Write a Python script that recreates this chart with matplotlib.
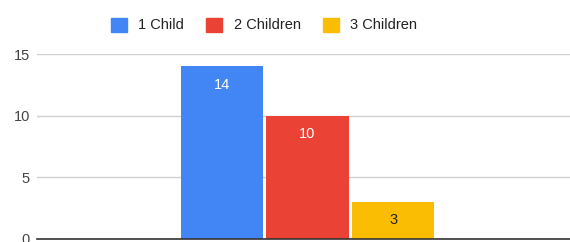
import matplotlib
matplotlib.use("Agg")
import matplotlib.pyplot as plt
from matplotlib.patches import Patch

plt.rcParams['font.family'] = ['Liberation Sans', 'DejaVu Sans']

series = ['1 Child', '2 Children', '3 Children']
values = [14, 10, 3]
colors = ['#4285f4', '#ea4335', '#fbbc04']
label_colors = ['#ffffff', '#ffffff', '#222222']
yticks = [0, 5, 10, 15]

W, H = 570, 242
fig = plt.figure(figsize=(W / 100, H / 100), dpi=100)
ax = fig.add_axes([37 / W, 3 / H, (578 - 37) / W, (239 - 54) / H])

step = 1.043
for i, (v, c) in enumerate(zip(values, colors)):
    x = (i - 1) * step
    ax.bar(x, v, width=1.0, color=c, zorder=3)
    # label inside bar near the top (or centered for short bars)
    if v > 5:
        ax.text(x, v - 1.5, str(v), ha='center', va='center',
                color=label_colors[i], fontsize=10.5, zorder=4)
    else:
        ax.text(x, v / 2, str(v), ha='center', va='center',
                color=label_colors[i], fontsize=10.5, zorder=4)

ax.set_xlim(-3.29, 3.29)
ax.set_ylim(0, 15)
ax.set_yticks(yticks)
ax.set_xticks([])
ax.yaxis.grid(True, color='#d0d0d0', linewidth=1, zorder=0)
ax.tick_params(axis='y', length=0, pad=5, labelsize=10.5, labelcolor='#444444')
for s in ['top', 'right', 'left']:
    ax.spines[s].set_visible(False)
ax.spines['bottom'].set_color('#333333')
ax.spines['bottom'].set_linewidth(1.2)
ax.spines['bottom'].set_zorder(5)

handles = [Patch(facecolor=c, edgecolor=c, label=s) for s, c in zip(series, colors)]
fig.legend(handles=handles, loc='center', bbox_to_anchor=(264 / W, 1 - 25 / H),
           ncol=3, frameon=False, fontsize=10.5, handlelength=1.1, handleheight=1.1,
           handletextpad=0.8, columnspacing=1.5, labelcolor='#222222')

fig.savefig('out.png', dpi=100)
